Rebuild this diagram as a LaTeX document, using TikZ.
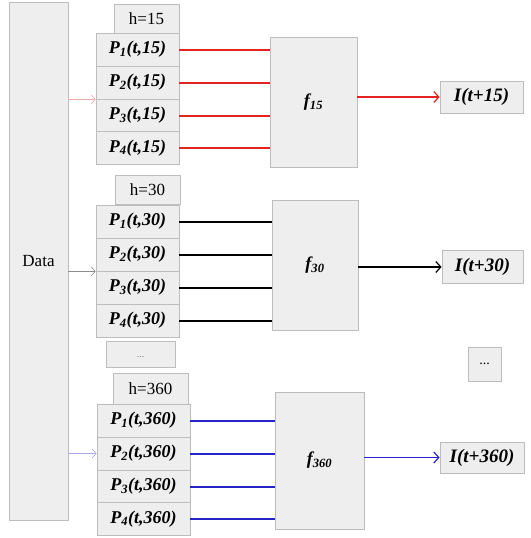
\documentclass[tikz,border=0pt]{standalone}
\usepackage{fontspec}
\setmainfont{Liberation Serif}
\usetikzlibrary{arrows.meta}

\definecolor{boxfill}{HTML}{EEEEEE}
\definecolor{boxline}{HTML}{BDBDBD}
\definecolor{lred}{HTML}{E32222}
\definecolor{lblue}{HTML}{2424C8}

\tikzset{
    cell/.style={draw=boxline, fill=boxfill, line width=0.8pt, inner sep=0pt},
    pbox/.style={cell, minimum height=33pt, font=\fontsize{18}{20}\selectfont\bfseries\itshape},
    hbox/.style={cell, minimum width=65pt, minimum height=29pt, font=\fontsize{17}{19}\selectfont},
    fbox/.style={cell, font=\fontsize{18}{20}\selectfont\bfseries\itshape},
    outbox/.style={cell, minimum height=32pt, font=\fontsize{19}{21}\selectfont\bfseries\itshape},
    feed/.style={line width=2pt},
    outarrow/.style={line width=1.2pt, -{Straight Barb[length=5pt, width=11pt]}},
    inarrow/.style={line width=0.6pt, -{Straight Barb[length=4pt, width=9pt]}}
}

\begin{document}
\begin{tikzpicture}[x=1pt, y=-1pt]
    \useasboundingbox (0,0) rectangle (530,538);

    \node[cell, minimum width=59pt, minimum height=518pt, font=\fontsize{17}{19}\selectfont] (data) at (38.5, 261) {Data};

    % h = 15
    \node[hbox] (ha) at (146.5, 19) {h=15};
    \foreach \i/\y in {1/49.5, 2/82.5, 3/115.5, 4/148} {
        \node[pbox, minimum width=83pt] (pa\i) at (137.5, \y) {P\textsubscript{\i}(t,15)};
    }
    \node[fbox, minimum width=87pt, minimum height=130pt] (fa) at (313.5, 102) {f\textsubscript{15}};
    \node[outbox, minimum width=83pt] (oa) at (481.5, 97) {I(t+15)};
    \foreach \i in {1,...,4} {
        \draw[feed, lred] (pa\i.east) -- (pa\i.east -| fa.west);
    }
    \draw[outarrow, lred] (fa.east |- oa.west) -- (oa.west);
    \draw[inarrow, lred!40] (data.east |- pa2.south west) -- (pa2.south west);

    % h = 30
    \node[hbox] (hb) at (147.5, 190) {h=30};
    \foreach \i/\y in {1/221.5, 2/254.5, 3/287.5, 4/320.5} {
        \node[pbox, minimum width=83pt] (pb\i) at (137.5, \y) {P\textsubscript{\i}(t,30)};
    }
    \node[fbox, minimum width=86pt, minimum height=130pt] (fb) at (315, 265) {f\textsubscript{30}};
    \node[outbox, minimum width=81pt, minimum height=33pt] (ob) at (482.5, 267) {I(t+30)};
    \foreach \i in {1,...,4} {
        \draw[feed, black] (pb\i.east) -- (pb\i.east -| fb.west);
    }
    \draw[outarrow, black] (fb.east |- ob.west) -- (ob.west);
    \draw[inarrow, black!45] (data.east |- pb2.south west) -- (pb2.south west);

    \node[cell, minimum width=69pt, minimum height=26pt, font=\fontsize{10}{11}\selectfont, text=black!50] (dotsl) at (140.5, 354) {\raisebox{-7pt}{...}};
    \node[cell, minimum width=33pt, minimum height=34pt, font=\fontsize{14}{15}\selectfont] (dotsr) at (484.5, 364) {...};

    % h = 360
    \node[hbox, minimum width=75pt, minimum height=31pt] (hc) at (150.5, 388.5) {h=360};
    \foreach \i/\y in {1/420.5, 2/453.5, 3/486.5, 4/519} {
        \node[pbox, minimum width=93pt] (pc\i) at (143.5, \y) {P\textsubscript{\i}(t,360)};
    }
    \node[fbox, minimum width=89pt, minimum height=137pt] (fc) at (319.5, 460.5) {f\textsubscript{360}};
    \node[outbox, minimum width=84pt, minimum height=31pt] (oc) at (482, 457.5) {I(t+360)};
    \foreach \i in {1,...,4} {
        \draw[feed, lblue] (pc\i.east) -- (pc\i.east -| fc.west);
    }
    \draw[outarrow, lblue] (fc.east |- oc.west) -- (oc.west);
    \draw[inarrow, lblue!40] (data.east |- pc2.west) -- (pc2.west);
\end{tikzpicture}
\end{document}
